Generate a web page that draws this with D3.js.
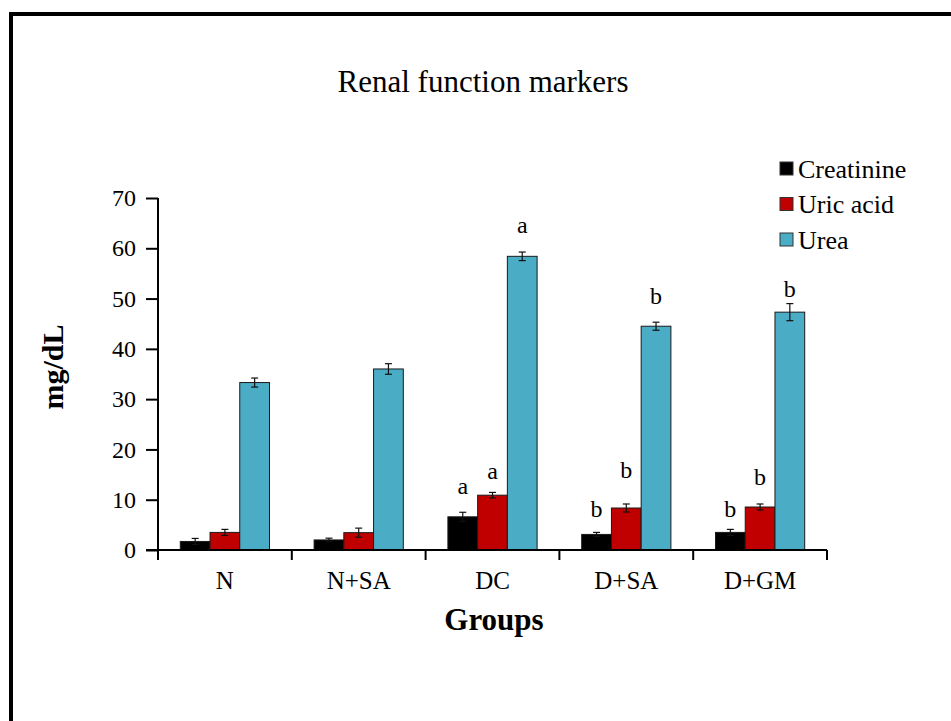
<!DOCTYPE html>
<html><head><meta charset="utf-8">
<script src="https://cdn.jsdelivr.net/npm/d3@7"></script>
<style>html,body{margin:0;padding:0;background:#fff;} svg{display:block;}</style>
</head><body>
<svg id="chart" width="951" height="721"></svg>
<script>
const groups = ["N", "N+SA", "DC", "D+SA", "D+GM"];
const seriesNames = ["Creatinine", "Uric acid", "Urea"];
const creatinine = [1.7, 2.0, 6.6, 3.1, 3.5];
const creatinineErr = [0.6, 0.35, 0.9, 0.4, 0.6];
const uricAcid = [3.5, 3.45, 10.9, 8.35, 8.55];
const uricAcidErr = [0.6, 0.9, 0.55, 0.8, 0.6];
const urea = [33.3, 36.0, 58.4, 44.5, 47.3];
const ureaErr = [0.9, 1.05, 0.85, 0.8, 1.7];
const creatinineLetters = ["", "", "a", "b", "b"];
const uricAcidLetters = ["", "", "a", "b", "b"];
const ureaLetters = ["", "", "a", "b", "b"];
const creatinineLetterAt = [null, null, 11.1, 6.6, 6.6];
const uricAcidLetterAt = [null, null, 14.1, 14.3, 12.9];
const ureaLetterAt = [null, null, 63.0, 48.9, 50.3];
const yTicks = [0, 10, 20, 30, 40, 50, 60, 70];
const colors = ["#000000", "#C00000", "#4BACC6"];

const series = [
  {name: seriesNames[0], values: creatinine, errs: creatinineErr, letters: creatinineLetters, letterAt: creatinineLetterAt},
  {name: seriesNames[1], values: uricAcid, errs: uricAcidErr, letters: uricAcidLetters, letterAt: uricAcidLetterAt},
  {name: seriesNames[2], values: urea, errs: ureaErr, letters: ureaLetters, letterAt: ureaLetterAt}
];

const svg = d3.select("#chart");
const font = "'Liberation Serif','Times New Roman',serif";

// outer frame (partially cropped)
svg.append("path").attr("d", "M11,730 L11,14 L960,14")
  .attr("fill", "none").attr("stroke", "#000").attr("stroke-width", 4);

const pLeft = 158, pRight = 827, pTop = 198, pBottom = 550;
const x0 = d3.scaleBand().domain(groups).range([pLeft, pRight]).paddingInner(0).paddingOuter(0);
const bw = x0.bandwidth();
const x1 = d3.scaleBand().domain(seriesNames).range([bw * 0.75 / 4.5, bw - bw * 0.75 / 4.5]).paddingInner(0).paddingOuter(0);
const y = d3.scaleLinear().domain([0, 70]).range([pBottom, pTop]);

// bars
const g = svg.append("g");
series.forEach((s, si) => {
  g.selectAll(null).data(groups).enter().append("rect")
    .attr("x", d => x0(d) + x1(s.name))
    .attr("y", (d, i) => y(s.values[i]))
    .attr("width", x1.bandwidth())
    .attr("height", (d, i) => y(0) - y(s.values[i]))
    .attr("fill", colors[si])
    .attr("stroke", "#1a1a1a").attr("stroke-width", 1);
});

// error bars
series.forEach((s, si) => {
  const eg = g.append("g").attr("stroke", "#111").attr("stroke-width", 1.2);
  groups.forEach((d, i) => {
    const cx = x0(d) + x1(s.name) + x1.bandwidth() / 2;
    const y1 = y(s.values[i] + s.errs[i]), y2 = y(s.values[i] - s.errs[i]);
    eg.append("line").attr("x1", cx).attr("x2", cx).attr("y1", y1).attr("y2", y2);
    eg.append("line").attr("x1", cx - 3.5).attr("x2", cx + 3.5).attr("y1", y1).attr("y2", y1);
    eg.append("line").attr("x1", cx - 3.5).attr("x2", cx + 3.5).attr("y1", y2).attr("y2", y2);
  });
});

// significance letters
series.forEach((s, si) => {
  groups.forEach((d, i) => {
    if (!s.letters[i]) return;
    svg.append("text")
      .attr("x", x0(d) + x1(s.name) + x1.bandwidth() / 2)
      .attr("y", y(s.letterAt[i]))
      .attr("text-anchor", "middle")
      .attr("font-family", font).attr("font-size", 24)
      .text(s.letters[i]);
  });
});

// y axis
const yAxis = svg.append("g").attr("transform", `translate(${pLeft},0)`)
  .call(d3.axisLeft(y).tickValues(yTicks).tickSize(12).tickPadding(10).tickFormat(d3.format("d")));
yAxis.select(".domain").attr("stroke", "#000").attr("stroke-width", 2).attr("d", `M0,${pTop}V${pBottom}`);
yAxis.selectAll(".tick line").attr("stroke", "#000").attr("stroke-width", 2);
yAxis.selectAll(".tick text").attr("font-family", font).attr("font-size", 24).attr("fill", "#000");

// x axis
const xAxis = svg.append("g").attr("transform", `translate(0,${pBottom})`)
  .call(d3.axisBottom(x0).tickSize(0).tickPadding(21));
xAxis.select(".domain").attr("stroke", "#000").attr("stroke-width", 2).attr("d", `M${pLeft - 12},0H${pRight}`);
xAxis.selectAll(".tick text").attr("font-family", font).attr("font-size", 25).attr("fill", "#000");
const sep = groups.map(d => x0(d)).concat([pRight]);
xAxis.selectAll(".sep").data(sep).enter().append("line")
  .attr("x1", d => d).attr("x2", d => d).attr("y1", 0).attr("y2", 10)
  .attr("stroke", "#000").attr("stroke-width", 2);

// title
svg.append("text").attr("x", 483).attr("y", 92).attr("text-anchor", "middle")
  .attr("font-family", font).attr("font-size", 31).text("Renal function markers");

// axis titles
svg.append("text").attr("transform", "translate(63,367) rotate(-90)").attr("text-anchor", "middle")
  .attr("font-family", font).attr("font-size", 30).attr("font-weight", "bold").text("mg/dL");
svg.append("text").attr("x", 494).attr("y", 630).attr("text-anchor", "middle")
  .attr("font-family", font).attr("font-size", 31).attr("font-weight", "bold").text("Groups");

// legend
const lg = svg.append("g");
seriesNames.forEach((n, i) => {
  const yy = 169 + i * 35.5;
  lg.append("rect").attr("x", 780).attr("y", yy - 7).attr("width", 13).attr("height", 13)
    .attr("fill", colors[i]).attr("stroke", "#333").attr("stroke-width", 1);
  lg.append("text").attr("x", 798).attr("y", yy + 8.5).attr("font-family", font).attr("font-size", 26).text(n);
});
</script>
</body></html>
